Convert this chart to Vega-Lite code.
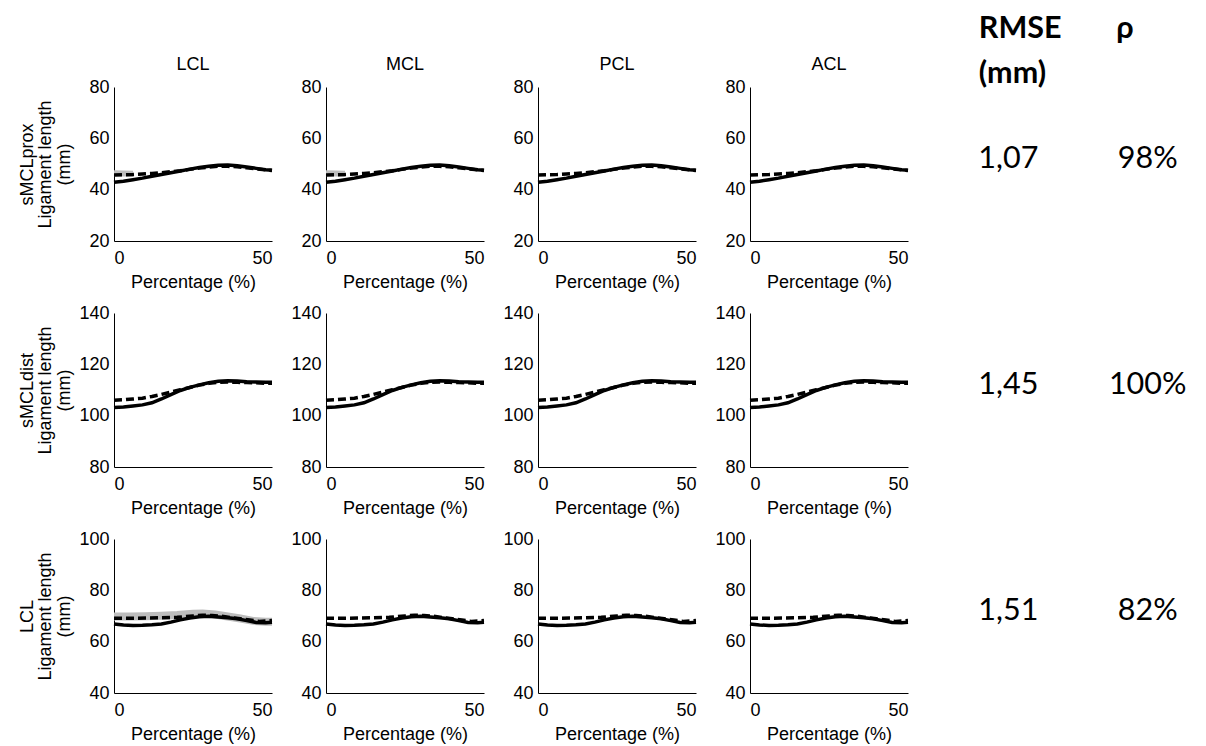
{
  "$schema": "https://vega.github.io/schema/vega-lite/v6.json",
  "background": "white",
  "padding": {"left": 18, "top": 13, "right": 5, "bottom": 5},
  "config": {
    "font": "Liberation Sans",
    "view": {"stroke": null},
    "axis": {"domainColor": "black", "domainWidth": 1, "ticks": false, "grid": false, "labelFont": "Liberation Sans", "labelFontSize": 18, "labelColor": "black", "titleFont": "Liberation Sans", "titleFontSize": 18, "titleFontWeight": "normal", "titleColor": "black"},
    "axisX": {"labelPadding": 8, "titlePadding": 6, "labelAngle": 0},
    "axisY": {"labelPadding": 5},
    "title": {"font": "Liberation Sans", "fontSize": 18, "fontWeight": "normal", "color": "black", "frame": "group", "baseline": "alphabetic", "offset": 0, "anchor": "middle"}
  },
  "datasets": {
    "prox": [
      {"series": "solid", "panel": "all", "pct": 0, "len": 42.9}, {"series": "solid", "panel": "all", "pct": 3, "len": 43.3}, {"series": "solid", "panel": "all", "pct": 6, "len": 43.9}, {"series": "solid", "panel": "all", "pct": 9, "len": 44.5}, {"series": "solid", "panel": "all", "pct": 12, "len": 45.2}, {"series": "solid", "panel": "all", "pct": 15, "len": 45.9}, {"series": "solid", "panel": "all", "pct": 18, "len": 46.6}, {"series": "solid", "panel": "all", "pct": 21, "len": 47.3}, {"series": "solid", "panel": "all", "pct": 24, "len": 48.0}, {"series": "solid", "panel": "all", "pct": 27, "len": 48.6}, {"series": "solid", "panel": "all", "pct": 30, "len": 49.1}, {"series": "solid", "panel": "all", "pct": 33, "len": 49.5}, {"series": "solid", "panel": "all", "pct": 36, "len": 49.6}, {"series": "solid", "panel": "all", "pct": 39, "len": 49.3}, {"series": "solid", "panel": "all", "pct": 42, "len": 48.8}, {"series": "solid", "panel": "all", "pct": 45, "len": 48.3}, {"series": "solid", "panel": "all", "pct": 48, "len": 47.8}, {"series": "solid", "panel": "all", "pct": 50, "len": 47.6},
      {"series": "dashed", "panel": "all", "pct": 0, "len": 45.7}, {"series": "dashed", "panel": "all", "pct": 3, "len": 45.8}, {"series": "dashed", "panel": "all", "pct": 6, "len": 45.9}, {"series": "dashed", "panel": "all", "pct": 9, "len": 46.1}, {"series": "dashed", "panel": "all", "pct": 12, "len": 46.3}, {"series": "dashed", "panel": "all", "pct": 15, "len": 46.6}, {"series": "dashed", "panel": "all", "pct": 18, "len": 47.0}, {"series": "dashed", "panel": "all", "pct": 21, "len": 47.4}, {"series": "dashed", "panel": "all", "pct": 24, "len": 47.9}, {"series": "dashed", "panel": "all", "pct": 27, "len": 48.4}, {"series": "dashed", "panel": "all", "pct": 30, "len": 48.8}, {"series": "dashed", "panel": "all", "pct": 33, "len": 49.1}, {"series": "dashed", "panel": "all", "pct": 36, "len": 49.1}, {"series": "dashed", "panel": "all", "pct": 39, "len": 48.9}, {"series": "dashed", "panel": "all", "pct": 42, "len": 48.5}, {"series": "dashed", "panel": "all", "pct": 45, "len": 48.1}, {"series": "dashed", "panel": "all", "pct": 48, "len": 47.7}, {"series": "dashed", "panel": "all", "pct": 50, "len": 47.5},
      {"series": "gray", "panel": "LCL", "pct": 0, "len": 46.4}, {"series": "gray", "panel": "LCL", "pct": 3, "len": 46.3}, {"series": "gray", "panel": "LCL", "pct": 6, "len": 46.2},
      {"series": "gray", "panel": "MCL", "pct": 0, "len": 46.4}, {"series": "gray", "panel": "MCL", "pct": 3, "len": 46.3}, {"series": "gray", "panel": "MCL", "pct": 6, "len": 46.2}
    ],
    "dist": [
      {"series": "solid", "panel": "all", "pct": 0, "len": 103.2}, {"series": "solid", "panel": "all", "pct": 3, "len": 103.4}, {"series": "solid", "panel": "all", "pct": 6, "len": 103.8}, {"series": "solid", "panel": "all", "pct": 9, "len": 104.2}, {"series": "solid", "panel": "all", "pct": 12, "len": 105.0}, {"series": "solid", "panel": "all", "pct": 15, "len": 106.5}, {"series": "solid", "panel": "all", "pct": 18, "len": 108.2}, {"series": "solid", "panel": "all", "pct": 21, "len": 109.8}, {"series": "solid", "panel": "all", "pct": 24, "len": 111.0}, {"series": "solid", "panel": "all", "pct": 27, "len": 112.0}, {"series": "solid", "panel": "all", "pct": 30, "len": 112.8}, {"series": "solid", "panel": "all", "pct": 33, "len": 113.4}, {"series": "solid", "panel": "all", "pct": 36, "len": 113.6}, {"series": "solid", "panel": "all", "pct": 39, "len": 113.5}, {"series": "solid", "panel": "all", "pct": 42, "len": 113.2}, {"series": "solid", "panel": "all", "pct": 45, "len": 113.1}, {"series": "solid", "panel": "all", "pct": 48, "len": 113.0}, {"series": "solid", "panel": "all", "pct": 50, "len": 113.0},
      {"series": "dashed", "panel": "all", "pct": 0, "len": 106.0}, {"series": "dashed", "panel": "all", "pct": 3, "len": 106.2}, {"series": "dashed", "panel": "all", "pct": 6, "len": 106.5}, {"series": "dashed", "panel": "all", "pct": 9, "len": 106.8}, {"series": "dashed", "panel": "all", "pct": 12, "len": 107.5}, {"series": "dashed", "panel": "all", "pct": 15, "len": 108.3}, {"series": "dashed", "panel": "all", "pct": 18, "len": 109.2}, {"series": "dashed", "panel": "all", "pct": 21, "len": 110.1}, {"series": "dashed", "panel": "all", "pct": 24, "len": 111.0}, {"series": "dashed", "panel": "all", "pct": 27, "len": 111.9}, {"series": "dashed", "panel": "all", "pct": 30, "len": 112.6}, {"series": "dashed", "panel": "all", "pct": 33, "len": 113.0}, {"series": "dashed", "panel": "all", "pct": 36, "len": 113.1}, {"series": "dashed", "panel": "all", "pct": 39, "len": 113.0}, {"series": "dashed", "panel": "all", "pct": 42, "len": 112.9}, {"series": "dashed", "panel": "all", "pct": 45, "len": 112.8}, {"series": "dashed", "panel": "all", "pct": 48, "len": 112.6}, {"series": "dashed", "panel": "all", "pct": 50, "len": 112.6}
    ],
    "lcl": [
      {"series": "solid", "panel": "all", "pct": 0, "len": 66.9}, {"series": "solid", "panel": "all", "pct": 3, "len": 66.5}, {"series": "solid", "panel": "all", "pct": 6, "len": 66.3}, {"series": "solid", "panel": "all", "pct": 9, "len": 66.4}, {"series": "solid", "panel": "all", "pct": 12, "len": 66.6}, {"series": "solid", "panel": "all", "pct": 15, "len": 66.9}, {"series": "solid", "panel": "all", "pct": 18, "len": 67.6}, {"series": "solid", "panel": "all", "pct": 21, "len": 68.5}, {"series": "solid", "panel": "all", "pct": 24, "len": 69.2}, {"series": "solid", "panel": "all", "pct": 27, "len": 69.7}, {"series": "solid", "panel": "all", "pct": 30, "len": 69.9}, {"series": "solid", "panel": "all", "pct": 33, "len": 69.6}, {"series": "solid", "panel": "all", "pct": 36, "len": 69.3}, {"series": "solid", "panel": "all", "pct": 39, "len": 68.9}, {"series": "solid", "panel": "all", "pct": 42, "len": 68.2}, {"series": "solid", "panel": "all", "pct": 45, "len": 67.5}, {"series": "solid", "panel": "all", "pct": 48, "len": 67.4}, {"series": "solid", "panel": "all", "pct": 50, "len": 67.6},
      {"series": "dashed", "panel": "all", "pct": 0, "len": 69.1}, {"series": "dashed", "panel": "all", "pct": 5, "len": 69.1}, {"series": "dashed", "panel": "all", "pct": 10, "len": 69.2}, {"series": "dashed", "panel": "all", "pct": 15, "len": 69.3}, {"series": "dashed", "panel": "all", "pct": 20, "len": 69.5}, {"series": "dashed", "panel": "all", "pct": 25, "len": 70.0}, {"series": "dashed", "panel": "all", "pct": 28, "len": 70.3}, {"series": "dashed", "panel": "all", "pct": 31, "len": 70.2}, {"series": "dashed", "panel": "all", "pct": 34, "len": 69.9}, {"series": "dashed", "panel": "all", "pct": 37, "len": 69.4}, {"series": "dashed", "panel": "all", "pct": 40, "len": 68.9}, {"series": "dashed", "panel": "all", "pct": 43, "len": 68.4}, {"series": "dashed", "panel": "all", "pct": 46, "len": 67.9}, {"series": "dashed", "panel": "all", "pct": 50, "len": 68.2},
      {"series": "gray", "panel": "LCL", "pct": 0, "len": 69.8}, {"series": "gray", "panel": "LCL", "pct": 5, "len": 69.8}, {"series": "gray", "panel": "LCL", "pct": 10, "len": 69.9}, {"series": "gray", "panel": "LCL", "pct": 15, "len": 70.1}, {"series": "gray", "panel": "LCL", "pct": 20, "len": 70.4}, {"series": "gray", "panel": "LCL", "pct": 25, "len": 70.9}, {"series": "gray", "panel": "LCL", "pct": 28, "len": 71.0}, {"series": "gray", "panel": "LCL", "pct": 32, "len": 70.6}, {"series": "gray", "panel": "LCL", "pct": 36, "len": 69.8}, {"series": "gray", "panel": "LCL", "pct": 40, "len": 69.0}, {"series": "gray", "panel": "LCL", "pct": 44, "len": 68.1}, {"series": "gray", "panel": "LCL", "pct": 48, "len": 67.8}, {"series": "gray", "panel": "LCL", "pct": 50, "len": 67.8}
    ],
    "stats": [
      {"lig": "sMCLprox", "metric": "RMSE", "value": "1,07"}, {"lig": "sMCLprox", "metric": "rho", "value": "98%"},
      {"lig": "sMCLdist", "metric": "RMSE", "value": "1,45"}, {"lig": "sMCLdist", "metric": "rho", "value": "100%"},
      {"lig": "LCL", "metric": "RMSE", "value": "1,51"}, {"lig": "LCL", "metric": "rho", "value": "82%"}
    ]
  },
  "bounds": "flush",
  "columns": 5,
  "spacing": {"row": 72, "column": 54},
  "concat": [
    {"width": 158, "height": 154, "title": "LCL", "data": {"name": "prox"}, "transform": [{"filter": "datum.panel == 'all' || datum.panel == 'LCL'"}],
     "encoding": {"x": {"field": "pct", "type": "quantitative", "scale": {"domain": [0, 50]}, "axis": {"values": [0, 50], "title": "Percentage (%)"}},
                  "y": {"field": "len", "type": "quantitative", "scale": {"domain": [20, 80]}, "axis": {"values": [20, 40, 60, 80], "title": ["sMCLprox", "Ligament length", "(mm)"], "titleX": -78, "titleY": 77, "titleLineHeight": 18.5, "titleAngle": 270, "titleBaseline": "bottom", "titleAlign": "center"}}},
     "layer": [
       {"transform": [{"filter": "datum.series == 'gray'"}], "mark": {"type": "line", "color": "#bdbdbd", "strokeWidth": 6}},
       {"transform": [{"filter": "datum.series == 'solid'"}], "mark": {"type": "line", "color": "black", "strokeWidth": 3.5}},
       {"transform": [{"filter": "datum.series == 'dashed'"}], "mark": {"type": "line", "color": "black", "strokeWidth": 3.5, "strokeDash": [8, 4]}}
     ]},
    {"width": 158, "height": 154, "title": "MCL", "data": {"name": "prox"}, "transform": [{"filter": "datum.panel == 'all' || datum.panel == 'MCL'"}],
     "encoding": {"x": {"field": "pct", "type": "quantitative", "scale": {"domain": [0, 50]}, "axis": {"values": [0, 50], "title": "Percentage (%)"}},
                  "y": {"field": "len", "type": "quantitative", "scale": {"domain": [20, 80]}, "axis": {"values": [20, 40, 60, 80], "title": null}}},
     "layer": [
       {"transform": [{"filter": "datum.series == 'gray'"}], "mark": {"type": "line", "color": "#bdbdbd", "strokeWidth": 6}},
       {"transform": [{"filter": "datum.series == 'solid'"}], "mark": {"type": "line", "color": "black", "strokeWidth": 3.5}},
       {"transform": [{"filter": "datum.series == 'dashed'"}], "mark": {"type": "line", "color": "black", "strokeWidth": 3.5, "strokeDash": [8, 4]}}
     ]},
    {"width": 158, "height": 154, "title": "PCL", "data": {"name": "prox"}, "transform": [{"filter": "datum.panel == 'all' || datum.panel == 'PCL'"}],
     "encoding": {"x": {"field": "pct", "type": "quantitative", "scale": {"domain": [0, 50]}, "axis": {"values": [0, 50], "title": "Percentage (%)"}},
                  "y": {"field": "len", "type": "quantitative", "scale": {"domain": [20, 80]}, "axis": {"values": [20, 40, 60, 80], "title": null}}},
     "layer": [
       {"transform": [{"filter": "datum.series == 'gray'"}], "mark": {"type": "line", "color": "#bdbdbd", "strokeWidth": 6}},
       {"transform": [{"filter": "datum.series == 'solid'"}], "mark": {"type": "line", "color": "black", "strokeWidth": 3.5}},
       {"transform": [{"filter": "datum.series == 'dashed'"}], "mark": {"type": "line", "color": "black", "strokeWidth": 3.5, "strokeDash": [8, 4]}}
     ]},
    {"width": 158, "height": 154, "title": "ACL", "data": {"name": "prox"}, "transform": [{"filter": "datum.panel == 'all' || datum.panel == 'ACL'"}],
     "encoding": {"x": {"field": "pct", "type": "quantitative", "scale": {"domain": [0, 50]}, "axis": {"values": [0, 50], "title": "Percentage (%)"}},
                  "y": {"field": "len", "type": "quantitative", "scale": {"domain": [20, 80]}, "axis": {"values": [20, 40, 60, 80], "title": null}}},
     "layer": [
       {"transform": [{"filter": "datum.series == 'gray'"}], "mark": {"type": "line", "color": "#bdbdbd", "strokeWidth": 6}},
       {"transform": [{"filter": "datum.series == 'solid'"}], "mark": {"type": "line", "color": "black", "strokeWidth": 3.5}},
       {"transform": [{"filter": "datum.series == 'dashed'"}], "mark": {"type": "line", "color": "black", "strokeWidth": 3.5, "strokeDash": [8, 4]}}
     ]},
    {"width": 170, "height": 154, "data": {"name": "stats"}, "transform": [{"filter": "datum.lig == 'sMCLprox'"}],
     "encoding": {"x": {"field": "metric", "type": "nominal", "scale": {"type": "point", "domain": ["RMSE", "rho"], "padding": 0.119},
                        "axis": {"orient": "top", "title": null, "domain": false, "ticks": false, "labelAngle": 0, "labelAlign": "left", "labelBaseline": "top", "labelPadding": 73.5, "labelOverlap": false, "labelFont": "Lato", "labelFontSize": 30.5, "labelFontWeight": "bold", "labelLineHeight": 45, "labelExpr": "datum.value == 'RMSE' ? ['RMSE', '(mm)'] : ['ρ', '']"}},
                  "text": {"field": "value"}},
     "layer": [
       {"transform": [{"filter": "datum.metric == 'RMSE'"}], "mark": {"type": "text", "align": "left", "baseline": "alphabetic", "dy": 3.5, "font": "Lato", "fontSize": 30.5, "color": "black"}},
       {"transform": [{"filter": "datum.metric == 'rho'"}], "mark": {"type": "text", "align": "center", "baseline": "alphabetic", "dy": 3.5, "dx": 32, "font": "Lato", "fontSize": 30.5, "color": "black"}}
     ]},

    {"width": 158, "height": 154, "data": {"name": "dist"}, "transform": [{"filter": "datum.panel == 'all' || datum.panel == 'LCL'"}],
     "encoding": {"x": {"field": "pct", "type": "quantitative", "scale": {"domain": [0, 50]}, "axis": {"values": [0, 50], "title": "Percentage (%)"}},
                  "y": {"field": "len", "type": "quantitative", "scale": {"domain": [80, 140]}, "axis": {"values": [80, 100, 120, 140], "title": ["sMCLdist", "Ligament length", "(mm)"], "titleX": -78, "titleY": 77, "titleLineHeight": 18.5, "titleAngle": 270, "titleBaseline": "bottom", "titleAlign": "center"}}},
     "layer": [
       {"transform": [{"filter": "datum.series == 'solid'"}], "mark": {"type": "line", "color": "black", "strokeWidth": 3.5}},
       {"transform": [{"filter": "datum.series == 'dashed'"}], "mark": {"type": "line", "color": "black", "strokeWidth": 3.5, "strokeDash": [8, 4]}}
     ]},
    {"width": 158, "height": 154, "data": {"name": "dist"}, "transform": [{"filter": "datum.panel == 'all' || datum.panel == 'MCL'"}],
     "encoding": {"x": {"field": "pct", "type": "quantitative", "scale": {"domain": [0, 50]}, "axis": {"values": [0, 50], "title": "Percentage (%)"}},
                  "y": {"field": "len", "type": "quantitative", "scale": {"domain": [80, 140]}, "axis": {"values": [80, 100, 120, 140], "title": null}}},
     "layer": [
       {"transform": [{"filter": "datum.series == 'solid'"}], "mark": {"type": "line", "color": "black", "strokeWidth": 3.5}},
       {"transform": [{"filter": "datum.series == 'dashed'"}], "mark": {"type": "line", "color": "black", "strokeWidth": 3.5, "strokeDash": [8, 4]}}
     ]},
    {"width": 158, "height": 154, "data": {"name": "dist"}, "transform": [{"filter": "datum.panel == 'all' || datum.panel == 'PCL'"}],
     "encoding": {"x": {"field": "pct", "type": "quantitative", "scale": {"domain": [0, 50]}, "axis": {"values": [0, 50], "title": "Percentage (%)"}},
                  "y": {"field": "len", "type": "quantitative", "scale": {"domain": [80, 140]}, "axis": {"values": [80, 100, 120, 140], "title": null}}},
     "layer": [
       {"transform": [{"filter": "datum.series == 'solid'"}], "mark": {"type": "line", "color": "black", "strokeWidth": 3.5}},
       {"transform": [{"filter": "datum.series == 'dashed'"}], "mark": {"type": "line", "color": "black", "strokeWidth": 3.5, "strokeDash": [8, 4]}}
     ]},
    {"width": 158, "height": 154, "data": {"name": "dist"}, "transform": [{"filter": "datum.panel == 'all' || datum.panel == 'ACL'"}],
     "encoding": {"x": {"field": "pct", "type": "quantitative", "scale": {"domain": [0, 50]}, "axis": {"values": [0, 50], "title": "Percentage (%)"}},
                  "y": {"field": "len", "type": "quantitative", "scale": {"domain": [80, 140]}, "axis": {"values": [80, 100, 120, 140], "title": null}}},
     "layer": [
       {"transform": [{"filter": "datum.series == 'solid'"}], "mark": {"type": "line", "color": "black", "strokeWidth": 3.5}},
       {"transform": [{"filter": "datum.series == 'dashed'"}], "mark": {"type": "line", "color": "black", "strokeWidth": 3.5, "strokeDash": [8, 4]}}
     ]},
    {"width": 170, "height": 154, "data": {"name": "stats"}, "transform": [{"filter": "datum.lig == 'sMCLdist'"}],
     "encoding": {"x": {"field": "metric", "type": "nominal", "scale": {"type": "point", "domain": ["RMSE", "rho"], "padding": 0.119}, "axis": null},
                  "text": {"field": "value"}},
     "layer": [
       {"transform": [{"filter": "datum.metric == 'RMSE'"}], "mark": {"type": "text", "align": "left", "baseline": "alphabetic", "dy": 3.5, "font": "Lato", "fontSize": 30.5, "color": "black"}},
       {"transform": [{"filter": "datum.metric == 'rho'"}], "mark": {"type": "text", "align": "center", "baseline": "alphabetic", "dy": 3.5, "dx": 32, "font": "Lato", "fontSize": 30.5, "color": "black"}}
     ]},

    {"width": 158, "height": 154, "data": {"name": "lcl"}, "transform": [{"filter": "datum.panel == 'all' || datum.panel == 'LCL'"}],
     "encoding": {"x": {"field": "pct", "type": "quantitative", "scale": {"domain": [0, 50]}, "axis": {"values": [0, 50], "title": "Percentage (%)"}},
                  "y": {"field": "len", "type": "quantitative", "scale": {"domain": [40, 100]}, "axis": {"values": [40, 60, 80, 100], "title": ["LCL", "Ligament length", "(mm)"], "titleX": -78, "titleY": 77, "titleLineHeight": 18.5, "titleAngle": 270, "titleBaseline": "bottom", "titleAlign": "center"}}},
     "layer": [
       {"transform": [{"filter": "datum.series == 'gray'"}], "mark": {"type": "line", "color": "#bdbdbd", "strokeWidth": 8}},
       {"transform": [{"filter": "datum.series == 'solid'"}], "mark": {"type": "line", "color": "black", "strokeWidth": 3.5}},
       {"transform": [{"filter": "datum.series == 'dashed'"}], "mark": {"type": "line", "color": "black", "strokeWidth": 3.5, "strokeDash": [8, 4]}}
     ]},
    {"width": 158, "height": 154, "data": {"name": "lcl"}, "transform": [{"filter": "datum.panel == 'all' || datum.panel == 'MCL'"}],
     "encoding": {"x": {"field": "pct", "type": "quantitative", "scale": {"domain": [0, 50]}, "axis": {"values": [0, 50], "title": "Percentage (%)"}},
                  "y": {"field": "len", "type": "quantitative", "scale": {"domain": [40, 100]}, "axis": {"values": [40, 60, 80, 100], "title": null}}},
     "layer": [
       {"transform": [{"filter": "datum.series == 'solid'"}], "mark": {"type": "line", "color": "black", "strokeWidth": 3.5}},
       {"transform": [{"filter": "datum.series == 'dashed'"}], "mark": {"type": "line", "color": "black", "strokeWidth": 3.5, "strokeDash": [8, 4]}}
     ]},
    {"width": 158, "height": 154, "data": {"name": "lcl"}, "transform": [{"filter": "datum.panel == 'all' || datum.panel == 'PCL'"}],
     "encoding": {"x": {"field": "pct", "type": "quantitative", "scale": {"domain": [0, 50]}, "axis": {"values": [0, 50], "title": "Percentage (%)"}},
                  "y": {"field": "len", "type": "quantitative", "scale": {"domain": [40, 100]}, "axis": {"values": [40, 60, 80, 100], "title": null}}},
     "layer": [
       {"transform": [{"filter": "datum.series == 'solid'"}], "mark": {"type": "line", "color": "black", "strokeWidth": 3.5}},
       {"transform": [{"filter": "datum.series == 'dashed'"}], "mark": {"type": "line", "color": "black", "strokeWidth": 3.5, "strokeDash": [8, 4]}}
     ]},
    {"width": 158, "height": 154, "data": {"name": "lcl"}, "transform": [{"filter": "datum.panel == 'all' || datum.panel == 'ACL'"}],
     "encoding": {"x": {"field": "pct", "type": "quantitative", "scale": {"domain": [0, 50]}, "axis": {"values": [0, 50], "title": "Percentage (%)"}},
                  "y": {"field": "len", "type": "quantitative", "scale": {"domain": [40, 100]}, "axis": {"values": [40, 60, 80, 100], "title": null}}},
     "layer": [
       {"transform": [{"filter": "datum.series == 'solid'"}], "mark": {"type": "line", "color": "black", "strokeWidth": 3.5}},
       {"transform": [{"filter": "datum.series == 'dashed'"}], "mark": {"type": "line", "color": "black", "strokeWidth": 3.5, "strokeDash": [8, 4]}}
     ]},
    {"width": 170, "height": 154, "data": {"name": "stats"}, "transform": [{"filter": "datum.lig == 'LCL'"}],
     "encoding": {"x": {"field": "metric", "type": "nominal", "scale": {"type": "point", "domain": ["RMSE", "rho"], "padding": 0.119}, "axis": null},
                  "text": {"field": "value"}},
     "layer": [
       {"transform": [{"filter": "datum.metric == 'RMSE'"}], "mark": {"type": "text", "align": "left", "baseline": "alphabetic", "dy": 3.5, "font": "Lato", "fontSize": 30.5, "color": "black"}},
       {"transform": [{"filter": "datum.metric == 'rho'"}], "mark": {"type": "text", "align": "center", "baseline": "alphabetic", "dy": 3.5, "dx": 32, "font": "Lato", "fontSize": 30.5, "color": "black"}}
     ]}
  ]
}
